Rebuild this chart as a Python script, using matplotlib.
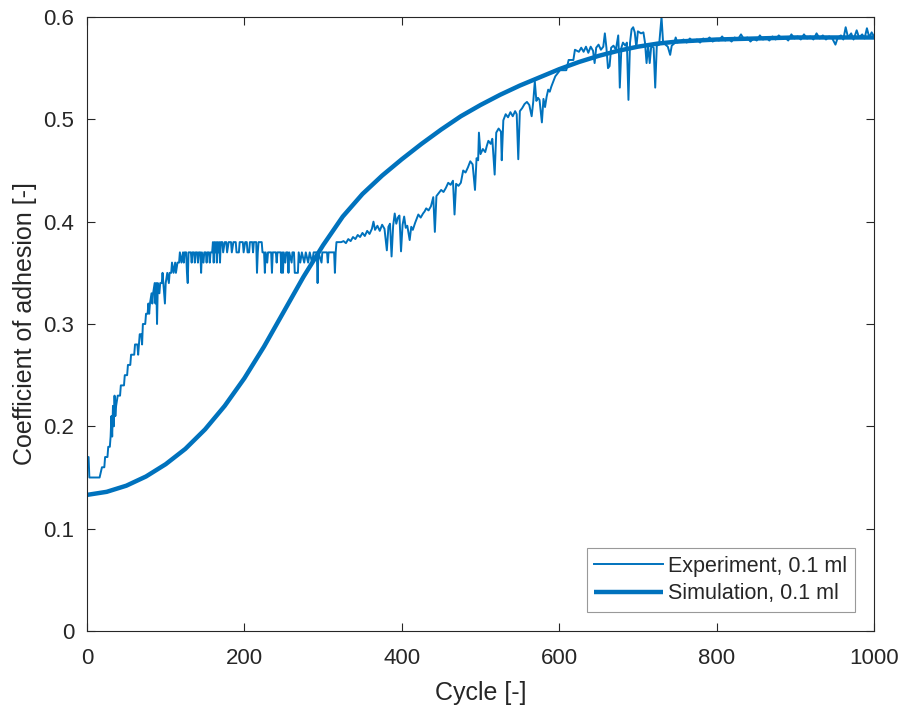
import matplotlib
matplotlib.use("Agg")
import matplotlib.pyplot as plt

plt.rcParams['font.family'] = ['Liberation Sans', 'DejaVu Sans']

# Measured adhesion coefficient per cycle (0.1 ml)
exp_cycle = [
    0, 2, 3, 16, 19, 22, 23, 26, 27, 29, 30, 31, 32, 33, 34, 35, 36, 37, 39, 42,
    43, 47, 48, 51, 52, 55, 56, 60, 61, 64, 65, 66, 67, 69, 70, 71, 74, 75, 77, 78,
    79, 80, 82, 83, 84, 86, 87, 88, 89, 90, 92, 93, 95, 96, 97, 99, 100, 102, 104, 105,
    107, 108, 110, 112, 113, 115, 117, 118, 120, 122, 123, 124, 126, 127, 128, 129, 132, 133, 134, 136,
    137, 138, 140, 141, 142, 144, 145, 146, 148, 149, 151, 152, 153, 155, 156, 157, 159, 160, 161, 162,
    163, 164, 165, 166, 167, 168, 169, 170, 172, 173, 175, 177, 178, 180, 183, 184, 186, 189, 190, 193,
    194, 198, 199, 201, 203, 204, 206, 207, 210, 211, 212, 215, 216, 217, 218, 222, 223, 225, 226, 227,
    229, 230, 234, 235, 236, 240, 241, 242, 246, 247, 248, 249, 250, 252, 253, 255, 256, 257, 260, 261,
    263, 264, 268, 269, 271, 273, 276, 278, 281, 283, 286, 288, 292, 293, 294, 298, 299, 305, 306, 307,
    314, 315, 316, 317, 323, 326, 329, 332, 335, 338, 341, 344, 347, 350, 353, 356, 359, 362, 364, 366,
    369, 372, 375, 378, 381, 383, 385, 387, 389, 391, 393, 395, 397, 399, 401, 403, 405, 407, 410, 412,
    414, 417, 419, 421, 424, 427, 429, 431, 434, 437, 440, 442, 444, 447, 450, 453, 456, 459, 462, 465,
    467, 469, 472, 475, 478, 481, 484, 487, 490, 493, 495, 497, 498, 500, 503, 506, 508, 510, 513, 515,
    518, 520, 523, 526, 527, 529, 532, 535, 538, 541, 544, 546, 548, 550, 553, 556, 559, 562, 565, 567,
    569, 571, 573, 575, 578, 580, 582, 584, 586, 588, 590, 593, 595, 598, 601, 605, 609, 612, 618, 620,
    625, 628, 631, 634, 637, 640, 643, 645, 647, 650, 653, 656, 658, 660, 662, 664, 666, 669, 672, 675,
    676, 677, 679, 681, 684, 686, 688, 690, 692, 694, 696, 698, 700, 704, 707, 709, 711, 713, 715, 717,
    720, 722, 724, 727, 730, 732, 735, 738, 741, 743, 746, 748, 750, 753, 758, 762, 766, 770, 775, 779,
    783, 787, 791, 795, 799, 803, 807, 811, 815, 819, 823, 827, 831, 835, 839, 843, 847, 851, 855, 859,
    863, 867, 871, 875, 879, 883, 887, 891, 895, 899, 903, 907, 911, 915, 919, 923, 927, 931, 935, 939,
    943, 947, 951, 954, 958, 961, 964, 967, 971, 974, 978, 981, 985, 988, 991, 994, 997, 1000,
]
exp_coef = [
    0.17, 0.17, 0.15, 0.15, 0.16, 0.16, 0.17, 0.17, 0.18, 0.18, 0.19, 0.21, 0.19, 0.22, 0.20, 0.23, 0.21, 0.22, 0.23, 0.23,
    0.24, 0.24, 0.25, 0.25, 0.26, 0.26, 0.27, 0.27, 0.28, 0.28, 0.27, 0.28, 0.29, 0.29, 0.28, 0.30, 0.30, 0.31, 0.31, 0.32,
    0.31, 0.32, 0.33, 0.32, 0.33, 0.34, 0.32, 0.34, 0.30, 0.34, 0.33, 0.34, 0.34, 0.35, 0.34, 0.32, 0.34, 0.35, 0.34, 0.35,
    0.35, 0.36, 0.35, 0.36, 0.35, 0.36, 0.36, 0.37, 0.36, 0.37, 0.36, 0.37, 0.37, 0.35, 0.34, 0.37, 0.37, 0.36, 0.37, 0.37,
    0.36, 0.37, 0.37, 0.36, 0.37, 0.37, 0.35, 0.37, 0.36, 0.37, 0.37, 0.36, 0.37, 0.37, 0.36, 0.37, 0.37, 0.38, 0.36, 0.38,
    0.37, 0.38, 0.36, 0.38, 0.37, 0.38, 0.36, 0.38, 0.38, 0.37, 0.38, 0.38, 0.37, 0.38, 0.38, 0.37, 0.38, 0.38, 0.37, 0.37,
    0.38, 0.38, 0.37, 0.38, 0.38, 0.37, 0.37, 0.38, 0.38, 0.37, 0.38, 0.38, 0.35, 0.37, 0.38, 0.38, 0.37, 0.37, 0.35, 0.37,
    0.36, 0.37, 0.37, 0.35, 0.37, 0.37, 0.36, 0.37, 0.37, 0.35, 0.37, 0.35, 0.37, 0.36, 0.37, 0.37, 0.35, 0.37, 0.36, 0.37,
    0.37, 0.35, 0.35, 0.37, 0.36, 0.37, 0.36, 0.37, 0.36, 0.37, 0.36, 0.37, 0.37, 0.34, 0.37, 0.36, 0.37, 0.37, 0.36, 0.37,
    0.37, 0.35, 0.37, 0.38, 0.38, 0.381, 0.379, 0.383, 0.381, 0.385, 0.383, 0.387, 0.385, 0.389, 0.386, 0.391, 0.388, 0.393, 0.400, 0.392,
    0.396, 0.391, 0.397, 0.393, 0.372, 0.395, 0.398, 0.366, 0.396, 0.408, 0.398, 0.404, 0.406, 0.371, 0.397, 0.405, 0.394, 0.396, 0.382, 0.395,
    0.392, 0.399, 0.403, 0.407, 0.404, 0.408, 0.410, 0.413, 0.411, 0.415, 0.424, 0.390, 0.425, 0.428, 0.431, 0.429, 0.433, 0.438, 0.436, 0.440,
    0.407, 0.437, 0.435, 0.438, 0.450, 0.448, 0.453, 0.459, 0.456, 0.431, 0.462, 0.460, 0.487, 0.466, 0.471, 0.468, 0.474, 0.479, 0.476, 0.481,
    0.446, 0.487, 0.491, 0.488, 0.460, 0.499, 0.505, 0.502, 0.507, 0.503, 0.508, 0.505, 0.461, 0.508, 0.511, 0.515, 0.517, 0.514, 0.503, 0.517,
    0.537, 0.518, 0.521, 0.519, 0.497, 0.520, 0.512, 0.522, 0.529, 0.527, 0.532, 0.538, 0.542, 0.545, 0.548, 0.548, 0.548, 0.558, 0.558, 0.568,
    0.566, 0.570, 0.566, 0.571, 0.565, 0.571, 0.567, 0.555, 0.570, 0.573, 0.568, 0.571, 0.584, 0.570, 0.550, 0.552, 0.570, 0.572, 0.568, 0.582,
    0.562, 0.531, 0.570, 0.575, 0.572, 0.575, 0.519, 0.575, 0.588, 0.590, 0.585, 0.570, 0.586, 0.584, 0.585, 0.575, 0.555, 0.572, 0.555, 0.572,
    0.570, 0.531, 0.572, 0.573, 0.600, 0.575, 0.573, 0.571, 0.563, 0.572, 0.574, 0.580, 0.575, 0.576, 0.578, 0.575, 0.579, 0.576, 0.578, 0.575,
    0.579, 0.577, 0.580, 0.576, 0.578, 0.577, 0.581, 0.577, 0.579, 0.576, 0.580, 0.578, 0.583, 0.578, 0.580, 0.576, 0.579, 0.577, 0.582, 0.578,
    0.580, 0.577, 0.581, 0.578, 0.582, 0.579, 0.580, 0.577, 0.583, 0.579, 0.581, 0.578, 0.583, 0.579, 0.581, 0.578, 0.584, 0.579, 0.582, 0.578,
    0.581, 0.579, 0.573, 0.580, 0.582, 0.578, 0.590, 0.580, 0.584, 0.578, 0.587, 0.580, 0.583, 0.579, 0.589, 0.580, 0.585, 0.581,
]

# Simulated adhesion coefficient (0.1 ml)
sim_cycle = [0, 25, 50, 75, 100, 125, 150, 175, 200, 225, 250, 275, 300, 325, 350, 375, 400,
             425, 450, 475, 500, 525, 550, 575, 600, 625, 650, 675, 700, 725, 750, 800, 850,
             900, 950, 1000]
sim_coef = [0.133, 0.136, 0.142, 0.151, 0.163, 0.178, 0.197, 0.220, 0.247, 0.278, 0.312, 0.346,
            0.377, 0.405, 0.427, 0.445, 0.461, 0.476, 0.490, 0.503, 0.514, 0.524, 0.533, 0.541,
            0.549, 0.556, 0.562, 0.567, 0.571, 0.574, 0.576, 0.578, 0.579, 0.580, 0.580, 0.580]

x_ticks = [0, 200, 400, 600, 800, 1000]
y_ticks = [0, 0.1, 0.2, 0.3, 0.4, 0.5, 0.6]
y_tick_labels = ["0", "0.1", "0.2", "0.3", "0.4", "0.5", "0.6"]

blue = "#0072BD"
ink = "#262626"

fig = plt.figure(figsize=(9.05, 7.12), dpi=100)
ax = fig.add_axes([87 / 905, 81 / 712, 787 / 905, 614 / 712])

ax.plot(exp_cycle, exp_coef, color=blue, lw=1.4, label="Experiment, 0.1 ml")
ax.plot(sim_cycle, sim_coef, color=blue, lw=3.2, label="Simulation, 0.1 ml",
        solid_capstyle="butt", solid_joinstyle="round")

ax.set_xlim(0, 1000)
ax.set_ylim(0, 0.6)
ax.set_xticks(x_ticks)
ax.set_yticks(y_ticks)
ax.set_yticklabels(y_tick_labels)

for s in ax.spines.values():
    s.set_color(ink)
    s.set_linewidth(0.8)
ax.tick_params(direction="in", length=6, width=0.8, color=ink, labelcolor=ink,
               labelsize=16, top=True, right=True)
ax.tick_params(axis="x", pad=12)
ax.tick_params(axis="y", pad=9)

ax.set_xlabel("Cycle [-]", fontsize=18, color=ink, labelpad=9)
ax.set_ylabel("Coefficient of adhesion [-]", fontsize=18, color=ink, labelpad=5)

leg = ax.legend(loc="lower right", bbox_to_anchor=(0.976, 0.031), borderaxespad=0,
                fontsize=15.5, frameon=True, fancybox=False, handlelength=3.2,
                handletextpad=0.25, borderpad=0.35, labelspacing=0.3)
leg.get_frame().set_edgecolor("#808080")
leg.get_frame().set_linewidth(0.8)
for t in leg.get_texts():
    t.set_color(ink)

fig.savefig("out.png", dpi=100, facecolor="white")
